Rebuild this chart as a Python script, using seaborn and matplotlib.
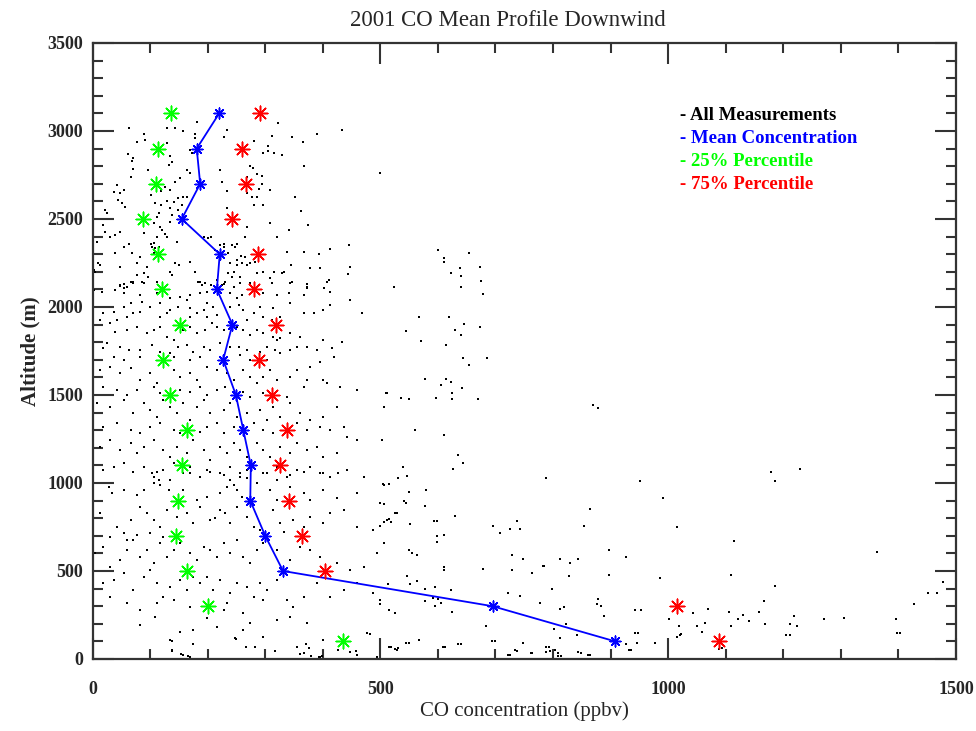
import matplotlib
matplotlib.use("Agg")
import matplotlib.pyplot as plt
import seaborn as sns
import pandas as pd
from matplotlib.ticker import MultipleLocator

# ---- profile data ----
altitude = [3100, 2900, 2700, 2500, 2300, 2100, 1900, 1700, 1500, 1300, 1100, 900, 700, 500, 300, 100]
mean_co = [220, 181, 187, 155, 221, 216, 243, 227, 249, 262, 275, 274, 300, 331, 695, 908]
p25_co = [136, 114, 110, 87, 114, 120, 152, 123, 135, 164, 155, 148, 145, 164, 201, 435]
p75_co = [291, 259, 267, 242, 288, 281, 318, 289, 312, 337, 326, 341, 364, 404, 1015, 1088]

pts_upper = [
    (64,3015),(129,3015),(144,3015),(181,3049),(157,3002),(178,2981),(323,3044),(233,3006),(433,3006),(390,2981),
    (312,2972),(347,2964),(366,2936),(280,2945),(228,2964),(90,2981),(77,2940),(92,2949),(129,2930),(170,2892),
    (173,2873),(178,2958),(304,2915),(305,2888),(297,2873),(315,2877),(329,2864),(367,2801),(61,2869),(70,2845),
    (68,2832),(135,2858),(138,2826),(132,2807),(164,2778),(170,2759),(222,2778),(274,2801),(278,2788),(268,2737),
    (294,2744),(286,2756),(500,2763),(71,2782),(96,2778),(66,2737),(152,2731),(144,2712),(126,2684),(135,2665),
    (119,2661),(148,2617),(158,2627),(142,2598),(225,2708),(233,2661),(294,2699),(286,2627),(289,2669),(352,2627),
    (309,2665),(42,2693),(37,2655),(48,2646),(54,2665),(45,2608),(51,2589),(57,2570),(101,2636),(109,2589),
    (119,2580),(129,2604),(135,2561),(148,2551),(155,2580),(164,2627),(233,2561),(268,2646),(277,2627),(297,2580),
    (280,2580),(363,2547),(22,2551),(25,2536),(19,2466),(22,2428),(31,2400),(39,2409),(48,2428),(89,2419),
    (106,2475),(112,2513),(115,2532),(118,2456),(121,2437),(112,2400),(129,2400),(126,2415),(138,2523),(135,2485),
    (147,2371),(106,2362),(103,2343),(109,2333),(102,2356),(116,2343),(106,2305),(193,2400),(200,2390),(205,2400),
    (212,2324),(222,2352),(228,2358),(242,2352),(251,2356),(247,2343),(235,2309),(228,2343),(268,2456),(265,2400),
    (308,2479),(320,2400),(341,2437),(374,2466),(338,2314),(368,2314),(413,2328),(446,2352),(393,2301),(8,2371),
    (10,2248),(13,2239),(2,2210),(5,2201),(39,2305),(54,2343),(64,2358),(68,2309),(83,2286),(77,2248),
    (48,2229),(89,2191),(94,2229),(97,2172),(77,2182),(86,2144),(71,2134),(60,2116),(66,2144),(135,2201),
    (138,2182),(144,2248),(150,2239),(170,2258),(178,2201),(187,2144),(196,2134),(205,2125),(216,2153),(225,2125),
    (231,2144),(239,2248),(251,2267),(258,2290),(265,2286),(251,2239),(268,2239),(274,2248),(286,2191),(297,2201),
    (309,2163),(315,2201),(329,2191),(332,2201),(344,2239),(346,2144),(378,2220),(396,2220),(448,2229),(443,2186),
    (407,2144),(283,2258),(260,2248),(245,2201),(236,2195),(242,2172),(257,2172),(48,2125),(54,2106),(373,2129),
    (373,2106),(402,2106),
]
pts_mid_right = [
    (600,2324),(654,2309),(611,2280),(611,2254),(638,2220),(673,2229),(622,2195),(640,2176),(675,2150),(523,2114),
    (640,2114),(678,2072),(568,1941),(619,1941),(646,1905),(673,1886),(544,1862),(630,1869),(640,1843),(571,1809),
    (614,1782),(643,1712),(686,1712),(654,1669),(577,1589),(614,1589),(622,1572),(606,1555),(641,1538),(509,1511),
    (625,1511),(536,1485),(550,1477),(597,1485),(625,1477),(670,1477),(870,1445),(878,1425),(560,1300),(610,1270),
]
pts_low_right = [
    (635,1160),(643,1115),(539,1090),(547,1039),(531,1028),(627,1081),(787,1028),(504,994),(515,994),(550,950),
    (579,958),(541,897),(544,888),(577,871),(499,884),(507,880),(526,831),(529,831),(630,810),(515,793),
    (507,776),(518,776),(552,767),(593,784),(599,784),(499,757),(865,854),(951,1011),(991,914),(598,696),
    (611,706),(598,662),(696,757),(707,714),(726,740),(737,784),(742,740),(854,757),(549,617),(555,600),
    (563,590),(729,590),(747,566),(812,566),(830,547),(844,566),(897,619),(926,581),(782,530),(785,530),
    (611,522),(611,503),(678,513),(729,503),(764,486),(828,469),(897,477),(985,460),(547,469),(563,443),
    (513,424),(552,424),(577,399),(595,407),(622,390),(721,373),(742,356),(798,399),(878,339),(876,312),
    (884,303),(577,329),(592,346),(601,339),(606,320),(595,303),(499,312),(777,320),(515,276),(526,259),
    (625,266),(819,295),(812,285),(889,242),(942,276),(953,276),(1002,225),(683,189),(822,198),(801,172),
    (812,119),(841,136),(942,145),(568,109),(694,100),(747,92),(544,92),(635,83),(609,66),(515,66),
    (526,56),(529,49),(734,49),(721,22),(787,66),(787,39),(804,49),(809,32),(809,15),(761,32),
    (844,39),(860,22),(926,83),(945,92),(932,49),(977,92),
    (1179,1065),(1186,1012),(1229,1082),(991,917),(1015,748),(1115,673),(1363,610),(986,462),(1109,477),(1186,417),
    (1166,330),(1069,284),(1044,260),(1002,226),(1018,190),(1050,190),(1064,207),(1058,155),(1015,127),(1021,137),
    (1106,267),(1109,190),(1122,226),(1130,250),(1141,216),(1157,267),(1168,199),(1205,137),(1211,199),(1218,243),
    (1224,190),(1271,226),(1306,233),(1395,226),(1397,146),(1427,313),(1451,373),(1467,373),(1478,436),(1088,59),
    (138,102),(174,85),(138,47),(154,28),(165,19),(249,114),(266,70),(282,70),(317,47),(360,28),
    (376,62),(379,17),(398,17),(371,85),(393,11),(458,47),(482,142),(518,70),(531,62),(550,93),
    (612,70),(640,85),(699,102),(726,23),(738,47),(764,34),(793,70),(795,47),(809,34),(813,17),
    (849,36),(865,23),(947,148),(935,51),(1022,142),(1211,136),(1403,148),(1094,62),
]
pts_middle = [
    (54,2128),(48,2119),(71,2144),(89,2138),(112,2144),(184,2144),(190,2125),(228,2130),(245,2115),(257,2138),
    (274,2138),(312,2138),(343,2134),(372,2130),(410,2153),(372,2115),(413,2087),(2,2096),(16,2087),(39,2096),
    (54,2077),(83,2068),(112,2077),(135,2049),(152,2058),(170,2068),(187,2077),(199,2087),(239,2077),(259,2068),
    (251,2049),(297,2077),(320,2068),(341,2077),(367,2068),(413,2011),(448,2039),(19,1964),(37,1973),(54,2001),
    (66,2020),(86,2030),(100,2001),(118,2020),(135,1983),(149,2001),(164,2039),(170,1992),(181,1964),(193,1983),
    (199,2020),(210,2001),(239,2001),(254,2011),(262,1983),(280,1964),(291,2001),(314,1992),(326,1945),(343,2020),
    (367,1964),(384,1964),(401,1983),(468,1964),(60,1945),(71,1964),(42,1926),(13,1926),(83,1973),(118,1945),
    (129,1964),(170,1945),(199,1945),(216,1954),(268,1926),(297,1945),(312,1926),(31,1907),(39,1859),(25,1793),
    (19,1765),(60,1869),(77,1888),(94,1850),(106,1869),(118,1888),(129,1831),(141,1812),(158,1869),(170,1888),
    (181,1850),(196,1869),(207,1907),(216,1888),(228,1869),(251,1888),(262,1869),(274,1840),(286,1869),(297,1850),
    (314,1831),(320,1812),(326,1822),(343,1850),(361,1831),(372,1774),(401,1812),(433,1803),(48,1774),(63,1755),
    (83,1755),(103,1784),(118,1746),(135,1736),(149,1774),(164,1784),(175,1746),(193,1774),(204,1755),(222,1793),
    (239,1774),(254,1774),(268,1755),(291,1746),(303,1774),(317,1755),(343,1755),(355,1774),(390,1755),(416,1765),
    (37,1717),(54,1698),(83,1717),(141,1717),(170,1698),(187,1717),(233,1717),(257,1727),(274,1698),(303,1698),
    (326,1736),(378,1661),(396,1689),(419,1717),(13,1642),(31,1661),(48,1623),(66,1651),(83,1585),(100,1623),
    (112,1566),(141,1642),(152,1604),(170,1623),(181,1585),(199,1661),(216,1642),(233,1623),(245,1585),(262,1642),
    (274,1604),(286,1566),(297,1604),(309,1642),(320,1585),(343,1604),(355,1642),(372,1585),(401,1585),(430,1547),
    (459,1528),(511,1509),(19,1547),(42,1528),(60,1500),(77,1528),(106,1547),(118,1509),(152,1528),(170,1519),
    (187,1547),(199,1500),(216,1528),(231,1547),(262,1519),(274,1490),(297,1509),(338,1490),(367,1547),(407,1566),
    (8,1452),(31,1433),(54,1471),(71,1395),(89,1452),(100,1414),(112,1377),(123,1471),(135,1433),(147,1395),
    (158,1452),(170,1358),(181,1433),(193,1471),(204,1395),(216,1339),(228,1414),(239,1452),(251,1377),(268,1395),
    (280,1339),(291,1414),(303,1358),(314,1433),(326,1377),(343,1452),(361,1395),(378,1358),(401,1377),(424,1433),
    (442,1263),(506,1433),(19,1320),(42,1339),(66,1301),(83,1282),(100,1320),(118,1339),(141,1301),(152,1282),
    (170,1310),(187,1291),(199,1320),(228,1282),(245,1320),(297,1301),(314,1282),(355,1339),(372,1301),(396,1320),
    (413,1301),(436,1320),(503,1244),(13,1206),(31,1244),(48,1187),(66,1225),(77,1168),(89,1206),(106,1244),
    (123,1187),(135,1149),(147,1206),(164,1168),(175,1244),(193,1187),(204,1130),(222,1206),(233,1168),(245,1225),
    (257,1187),(268,1149),(286,1225),(297,1187),(309,1149),(326,1206),(343,1168),(355,1225),(372,1187),(390,1206),
    (401,1149),(424,1168),(459,1244),(471,1036),(19,1073),(37,1092),(54,1111),(71,1064),(89,1092),(106,1036),
    (123,1073),(141,1111),(158,1055),(170,1092),(187,1036),(199,1073),(222,1055),(239,1092),(257,1036),(268,1073),
    (303,1055),(320,1092),(338,1036),(355,1073),(378,1092),(401,1055),(413,1036),(442,1073),
]
pts_lower = [
    (71,1065),(103,1055),(112,1065),(135,1017),(170,1055),(187,1036),(204,1065),(228,1046),(239,1017),(257,1055),
    (268,1027),(297,1055),(320,1017),(343,1046),(367,1065),(396,1055),(413,1036),(427,1059),(28,979),(34,941),
    (54,960),(77,932),(89,960),(106,998),(115,1017),(118,989),(132,960),(158,960),(181,904),(199,922),
    (222,941),(233,979),(245,989),(251,960),(259,922),(286,998),(309,960),(320,904),(343,979),(367,941),
    (378,904),(401,960),(424,913),(459,941),(500,885),(506,989),(13,828),(42,752),(54,714),(66,790),
    (83,866),(94,828),(106,790),(118,752),(129,847),(147,809),(164,828),(175,771),(187,866),(204,790),
    (213,799),(222,847),(230,828),(239,771),(251,866),(268,809),(280,752),(291,733),(314,847),(326,771),
    (332,724),(349,790),(367,752),(378,809),(401,771),(413,828),(436,847),(459,752),(488,733),(511,790),
    (31,695),(60,676),(77,705),(100,714),(123,695),(5,600),(19,638),(31,525),(48,563),(60,619),
    (71,676),(83,582),(94,619),(106,544),(118,657),(129,582),(141,619),(152,657),(170,600),(181,563),
    (193,638),(204,619),(216,582),(228,657),(239,600),(251,676),(262,582),(274,544),(286,619),(297,657),
    (320,619),(343,563),(361,638),(378,619),(396,582),(413,525),(424,544),(448,506),(471,525),(494,600),
    (506,657),(19,430),(37,449),(54,487),(71,392),(89,468),(100,506),(112,430),(123,354),(135,411),
    (152,449),(164,392),(175,468),(187,430),(199,468),(210,392),(222,449),(239,373),(251,430),(268,411),
    (280,354),(291,430),(303,392),(320,449),(338,335),(349,297),(367,354),(390,430),(413,354),(436,392),
    (459,430),(488,373),(500,335),(31,354),(60,316),(83,279),(112,316),(141,335),(170,297),(233,316),
    (262,260),(297,335),(83,193),(109,241),(152,155),(175,165),(135,108),(138,51),(158,23),(170,13),
    (248,118),(297,127),(320,222),(343,241),(372,203),(401,108),(427,51),(448,42),(459,23),(477,146),
    (494,13),(262,165),(274,203),(216,184),(199,231),(228,279),(355,70),(367,32),(396,13),
]

all_pts = pts_upper + pts_mid_right + pts_low_right + pts_middle + pts_lower
co_all = [p[0] for p in all_pts]
alt_all = [p[1] for p in all_pts]

title_text = "2001 CO Mean Profile Downwind"
legend_labels = ["- All Measurements", "- Mean Concentration", "- 25% Percentile", "- 75% Percentile"]
legend_colors = ["black", "#0000FF", "#00FF00", "#FF0000"]

# ---- figure ----
sns.set_style("ticks")
plt.rcParams["font.family"] = ["Liberation Serif", "DejaVu Serif"]

fig = plt.figure(figsize=(9.76, 7.31), dpi=100)
ax = fig.add_axes([0.0948, 0.0985, 0.8847, 0.8427])

df_all = pd.DataFrame({"co": co_all, "alt": alt_all})
sns.scatterplot(data=df_all, x="co", y="alt", ax=ax, color="black", marker="s", s=4.5,
                linewidth=0, legend=False, zorder=2)

df_prof = pd.DataFrame({"alt": altitude, "mean": mean_co, "p25": p25_co, "p75": p75_co})
sns.lineplot(data=df_prof, x="mean", y="alt", ax=ax, sort=False, estimator=None,
             color="#0000FF", linewidth=1.3, zorder=3, legend=False)
star = (8, 2, 0)
sns.scatterplot(data=df_prof, x="mean", y="alt", ax=ax, marker=star, s=60,
                edgecolor="#0000FF", color="#0000FF", linewidth=1.1, legend=False, zorder=4)
sns.scatterplot(data=df_prof, x="p25", y="alt", ax=ax, marker=star, s=110,
                edgecolor="#00FF00", color="#00FF00", linewidth=1.1, legend=False, zorder=4)
sns.scatterplot(data=df_prof, x="p75", y="alt", ax=ax, marker=star, s=110,
                edgecolor="#FF0000", color="#FF0000", linewidth=1.1, legend=False, zorder=4)

ax.set_xlim(0, 1500)
ax.set_ylim(0, 3500)
ax.xaxis.set_major_locator(MultipleLocator(500))
ax.xaxis.set_minor_locator(MultipleLocator(100))
ax.yaxis.set_major_locator(MultipleLocator(500))
ax.yaxis.set_minor_locator(MultipleLocator(100))
ax.tick_params(which="both", direction="in", top=True, right=True, color="#333333", width=1.5)
ax.tick_params(which="major", length=15)
ax.tick_params(which="minor", length=7.5)
ax.tick_params(axis="x", which="major", pad=16, labelsize=13)
ax.tick_params(axis="y", which="major", pad=7, labelsize=13)
for lab in ax.get_xticklabels() + ax.get_yticklabels():
    lab.set_fontweight("bold")
for sp in ax.spines.values():
    sp.set_linewidth(1.6)
    sp.set_color("#333333")

ax.set_xlabel("CO concentration (ppbv)", fontsize=15, labelpad=2)
ax.set_ylabel("Altitude (m)", fontsize=15, fontweight="bold", labelpad=5)
fig.text(508 / 976, 1 - 21 / 731, title_text, fontsize=16.5, ha="center", va="center")

for i, (txt, col) in enumerate(zip(legend_labels, legend_colors)):
    ax.text(0.68, 0.883 - i * 0.0375, txt, transform=ax.transAxes, color=col,
            fontsize=13.5, fontweight="bold", va="center", ha="left")

fig.savefig("out.png", dpi=100)
